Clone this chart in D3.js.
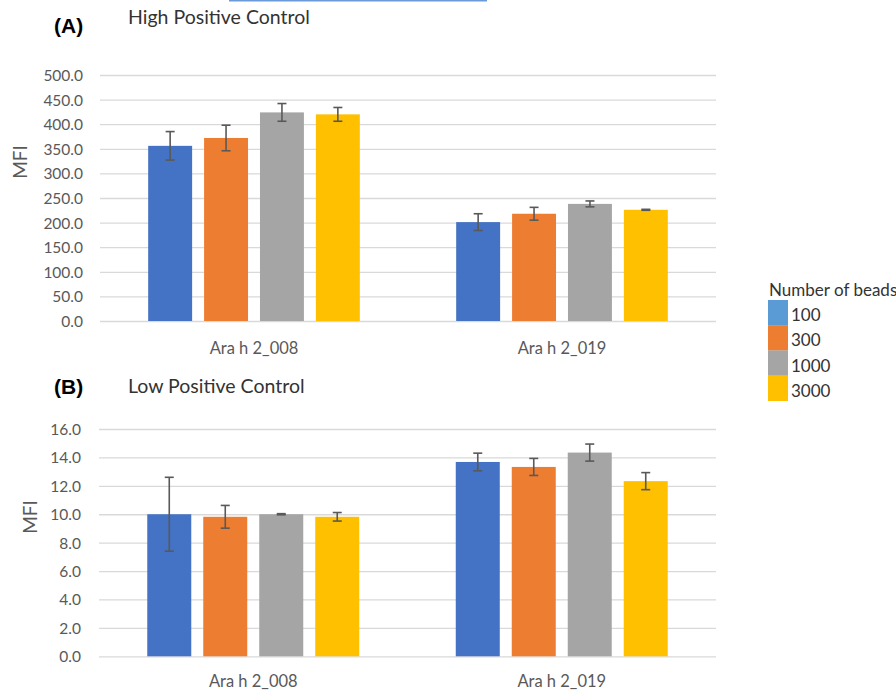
<!DOCTYPE html>
<html>
<head>
<meta charset="utf-8">
<script src="https://cdn.jsdelivr.net/npm/d3@7"></script>
<style>
  html, body { margin: 0; padding: 0; background: #fff; }
  svg { display: block; font-family: Lato, "Open Sans", sans-serif; }
</style>
</head>
<body>
<svg id="chart" width="896" height="693"></svg>
<script>
// ---- data ----
const categories = ["Ara h 2_008", "Ara h 2_019"];
const seriesNames = ["100", "300", "1000", "3000"];
const seriesColors = ["#4472C4", "#ED7D31", "#A5A5A5", "#FFC000"];
const legendColors = ["#5B9BD5", "#ED7D31", "#A5A5A5", "#FFC000"];

const high100 = [356, 201], high100Err = [29, 17];
const high300 = [372, 218], high300Err = [26, 13];
const high1000 = [424, 238], high1000Err = [18, 6];
const high3000 = [420, 226], high3000Err = [14, 1];
const highTicks = [0, 50, 100, 150, 200, 250, 300, 350, 400, 450, 500];

const low100 = [10.0, 13.68], low100Err = [2.6, 0.62];
const low300 = [9.82, 13.33], low300Err = [0.8, 0.6];
const low1000 = [10.0, 14.34], low1000Err = [0.04, 0.6];
const low3000 = [9.82, 12.33], low3000Err = [0.3, 0.6];
const lowTicks = [0, 2, 4, 6, 8, 10, 12, 14, 16];

const svg = d3.select("#chart");

// decorative line at top edge
svg.append("line").attr("x1", 229).attr("x2", 487).attr("y1", 0.5).attr("y2", 0.5)
  .attr("stroke", "#6A9BD8").attr("stroke-width", 2);

function panel(opts) {
  const { means, errs, ticks, yTop, yBottom, x0, x1, tickX, label, title, labelY, titleY, mfiX, mfiY, catY } = opts;
  const g = svg.append("g");
  const y = d3.scaleLinear().domain([ticks[0], ticks[ticks.length - 1]]).range([yBottom, yTop]);
  const xb = d3.scaleBand().domain(categories).range([x0, x1]).padding(0);
  const xs = d3.scaleBand().domain(seriesNames).range([0, xb.bandwidth()])
    .paddingInner(0.214).paddingOuter(0.862);

  // grid
  const yAxis = d3.axisLeft(y).tickValues(ticks).tickSize(-(x1 - x0)).tickPadding(0)
    .tickFormat(d3.format(".1f"));
  const ag = g.append("g").attr("transform", `translate(${x0},0)`).call(yAxis);
  ag.select(".domain").remove();
  ag.selectAll(".tick line").attr("stroke", "#D9D9D9").attr("stroke-width", 1.3);
  ag.selectAll(".tick text").attr("x", tickX - x0).attr("fill", "#595959")
    .attr("font-size", 15.5).attr("dy", "0.35em").attr("text-anchor", "end")
    .style("font-family", "Lato, sans-serif");

  // bars
  categories.forEach((c, ci) => {
    seriesNames.forEach((s, si) => {
      const v = means[si][ci], e = errs[si][ci];
      const bx = xb(c) + xs(s);
      g.append("rect").attr("x", bx).attr("width", xs.bandwidth())
        .attr("y", y(v)).attr("height", y(0) - y(v)).attr("fill", seriesColors[si]);
      const cx = bx + xs.bandwidth() / 2;
      const eg = g.append("g").attr("stroke", "#595959").attr("stroke-width", 1.6);
      eg.append("line").attr("x1", cx).attr("x2", cx).attr("y1", y(v + e)).attr("y2", y(v - e));
      eg.append("line").attr("x1", cx - 4.5).attr("x2", cx + 4.5).attr("y1", y(v + e)).attr("y2", y(v + e));
      eg.append("line").attr("x1", cx - 4.5).attr("x2", cx + 4.5).attr("y1", y(v - e)).attr("y2", y(v - e));
    });
    g.append("text").attr("x", xb(c) + xb.bandwidth() / 2).attr("y", catY)
      .attr("text-anchor", "middle").attr("fill", "#595959").attr("font-size", 16.5)
      .text(c);
  });

  // labels
  g.append("text").attr("x", 54).attr("y", labelY).attr("font-weight", "bold")
    .attr("font-size", 21).attr("fill", "#000").style("font-family", "Liberation Sans, Arial, sans-serif")
    .text(label);
  g.append("text").attr("x", 128).attr("y", titleY).attr("font-size", 19.5).attr("fill", "#333")
    .text(title);
  g.append("text").attr("transform", `translate(${mfiX},${mfiY}) rotate(-90)`)
    .attr("text-anchor", "middle").attr("font-size", 19).attr("fill", "#595959").text("MFI");
}

panel({
  means: [high100, high300, high1000, high3000],
  errs: [high100Err, high300Err, high1000Err, high3000Err],
  ticks: highTicks, yTop: 75, yBottom: 321, x0: 100, x1: 716, tickX: 83,
  label: "(A)", title: "High Positive Control", labelY: 33, titleY: 24,
  mfiX: 27, mfiY: 162, catY: 354
});

panel({
  means: [low100, low300, low1000, low3000],
  errs: [low100Err, low300Err, low1000Err, low3000Err],
  ticks: lowTicks, yTop: 429, yBottom: 656.3, x0: 99, x1: 716, tickX: 81,
  label: "(B)", title: "Low Positive Control", labelY: 394, titleY: 393,
  mfiX: 37, mfiY: 517, catY: 687
});

// legend
const lg = svg.append("g");
lg.append("text").attr("x", 769).attr("y", 296).attr("font-size", 17).attr("fill", "#333")
  .text("Number of beads");
seriesNames.forEach((s, i) => {
  lg.append("rect").attr("x", 768).attr("y", 300 + i * 25.2).attr("width", 20).attr("height", 25.4)
    .attr("fill", legendColors[i]);
  lg.append("text").attr("x", 791).attr("y", 321 + i * 25.3).attr("font-size", 17).attr("fill", "#333")
    .text(s);
});
</script>
</body>
</html>
